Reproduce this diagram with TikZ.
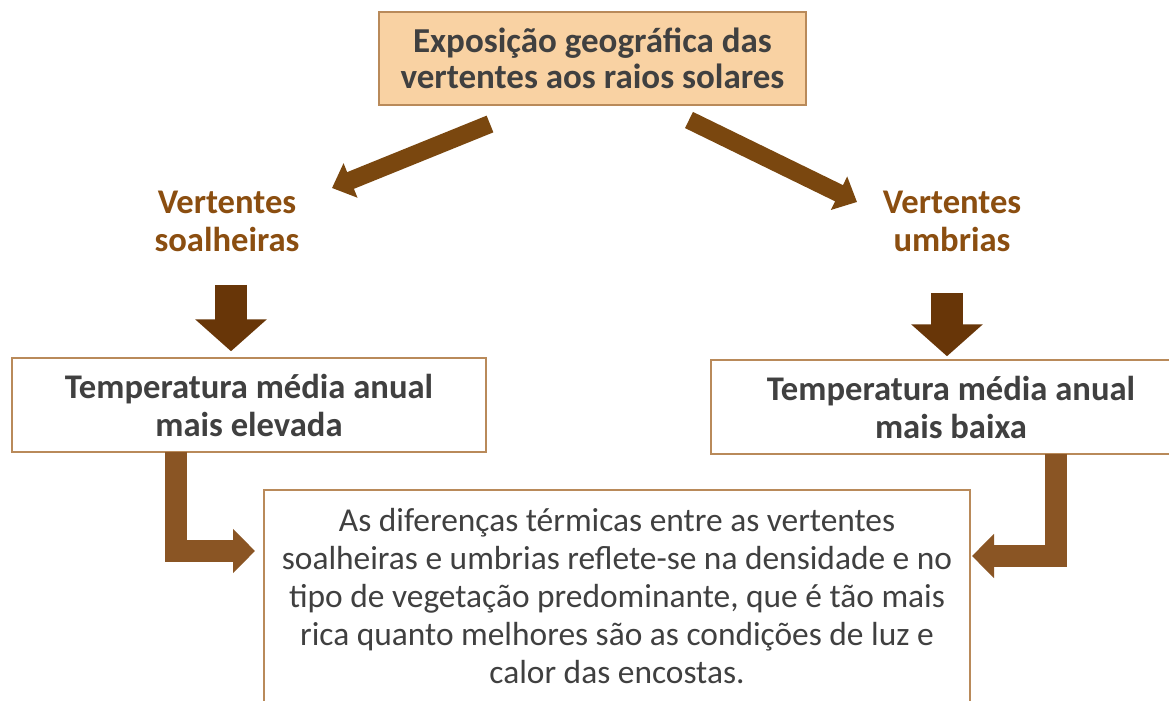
\documentclass[tikz,border=0pt]{standalone}
\usepackage{fontspec}
\setmainfont{Carlito}
\usepackage{xcolor}
\usetikzlibrary{arrows.meta,positioning}

\definecolor{peach}{HTML}{F9D2A3}
\definecolor{boxline}{HTML}{B98A5A}
\definecolor{darktext}{HTML}{404040}
\definecolor{slopebrown}{HTML}{8B4E10}
\definecolor{arrowbrown}{HTML}{7A470F}
\definecolor{darkbrown}{HTML}{683608}
\definecolor{elbowbrown}{HTML}{8A5524}

\newcommand\headfont{\fontsize{17.3}{19}\selectfont\bfseries}
\newcommand\bodyfont{\fontsize{16.7}{19}\selectfont}

\begin{document}
\begin{tikzpicture}[x=0.5pt, y=-0.5pt, line join=miter,
  topbox/.style={draw=boxline, fill=peach, line width=0.75pt, inner sep=0pt, align=center,
    minimum width=213.5pt, minimum height=46.5pt, text=darktext,
    font=\fontsize{17.5}{18}\selectfont\bfseries},
  tempbox/.style={draw=boxline, fill=white, line width=0.75pt, inner sep=0pt, align=center,
    minimum height=47pt, text=darktext, font=\headfont},
  slopetext/.style={align=center, text=slopebrown, font=\headfont},
  diffbox/.style={draw=boxline, fill=white, line width=0.75pt, inner sep=0pt, anchor=north,
    minimum width=353pt, minimum height=130pt},
  bodytext/.style={align=center, text=darktext, font=\bodyfont},
  diagarrow/.style={draw=arrowbrown, line width=9pt, -{Triangle[width=18pt,length=10pt]}},
  downarrow/.style={draw=darkbrown, line width=16pt, -{Triangle[width=35pt,length=16pt]}},
  elbowarrow/.style={draw=elbowbrown, line width=11pt, -{Triangle[width=21.5pt,length=11pt]}}]
%
\fill[white] (0,0) rectangle (1169,701);
\useasboundingbox (0,0) rectangle (1169,701);
%
\node (E) [topbox] at (592.5,58.5) {Exposição geográfica das\\vertentes aos raios solares};
\node (VS) [slopetext] at (227,221) {Vertentes\\soalheiras};
\node (VU) [slopetext] at (952,221) {Vertentes\\umbrias};
\node (TS) [tempbox, minimum width=237pt] at (249,405) {Temperatura média anual\\mais elevada};
\node (TU) [tempbox, minimum width=240pt] at (951,407) {Temperatura média anual\\mais baixa};
\node (D) [diffbox] at (617,489) {};
\node (Dtext) [bodytext] at (617,596) {As diferenças térmicas entre as vertentes\\soalheiras e umbrias reflete-se na densidade e no\\tipo de vegetação predominante, que é tão mais\\rica quanto melhores são as condições de luz e\\calor das encostas.};
%
\coordinate (El) at (490,124);
\coordinate (Er) at (689,120);
\coordinate (VSr) at (332,188);
\coordinate (VUl) at (857,202);
\coordinate (VSb) at (231,285);
\coordinate (VUb) at (947,293);
\coordinate (TSb) at (176,452);
\coordinate (TUb) at (1056,454);
\coordinate (Dl) at (255,551);
\coordinate (Dr) at (972,556);
%
\draw[diagarrow] (El) -- (VSr);
\draw[diagarrow] (Er) -- (VUl);
\draw[downarrow, shorten >=3pt] (VSb) -- (VSb |- TS.north);
\draw[downarrow, shorten >=1.5pt] (VUb) -- (VUb |- TU.north);
\draw[elbowarrow] (TSb) |- (Dl);
\draw[elbowarrow] (TUb) |- (Dr);
\end{tikzpicture}
\end{document}
